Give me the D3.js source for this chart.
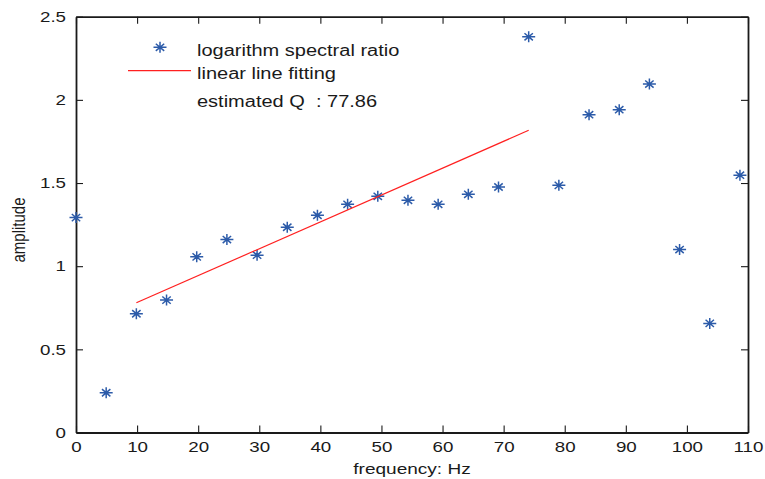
<!DOCTYPE html>
<html><head><meta charset="utf-8">
<script src="https://cdn.jsdelivr.net/npm/d3@7"></script>
<style>body{margin:0;background:#fff}svg{display:block}text{font-family:"Liberation Sans",Arial,sans-serif}</style>
</head><body><svg id="c" width="765" height="479"></svg>
<script>
const freqs = [0, 4.94, 9.88, 14.82, 19.76, 24.7, 29.64, 34.58, 39.52, 44.46, 49.4, 54.34, 59.28, 64.22, 69.16, 74.1, 79.04, 83.98, 88.92, 93.86, 98.8, 103.74, 108.68];
const ratios = [1.292, 0.239, 0.714, 0.796, 1.056, 1.160, 1.066, 1.234, 1.306, 1.372, 1.420, 1.396, 1.372, 1.432, 1.476, 2.379, 1.486, 1.911, 1.941, 2.095, 1.100, 0.656, 1.547];
const fitX = [9.88, 74.1];
const fitY = [0.780, 1.817];
const xTicks = [0,10,20,30,40,50,60,70,80,90,100,110];
const yTicks = [0,0.5,1,1.5,2,2.5];
const legendLabels = ["logarithm spectral ratio", "linear line fitting", "estimated Q  : 77.86"];

const svg = d3.select("#c");
const L=76, R=748, T=16.7, B=432.5;
const x = d3.scaleLinear().domain([0,110]).range([L,R]);
const y = d3.scaleLinear().domain([0,2.5]).range([B,T]);
const axCol="#1a1a1a";
const SX = 1.25;

const fmt = d => String(d);
svg.append("g").attr("class","xb").attr("transform",`translate(0,${B})`)
  .call(d3.axisBottom(x).tickValues(xTicks).tickFormat(fmt).tickSizeInner(-7).tickSizeOuter(0).tickPadding(9));
svg.append("g").attr("transform",`translate(0,${T})`)
  .call(d3.axisTop(x).tickValues(xTicks).tickFormat("").tickSizeInner(-7).tickSizeOuter(0));
svg.append("g").attr("class","yl").attr("transform",`translate(${L},0)`)
  .call(d3.axisLeft(y).tickValues(yTicks).tickFormat(fmt).tickSizeInner(-7).tickSizeOuter(0).tickPadding(8));
svg.append("g").attr("transform",`translate(${R},0)`)
  .call(d3.axisRight(y).tickValues(yTicks).tickFormat("").tickSizeInner(-7).tickSizeOuter(0));
svg.selectAll(".domain").attr("stroke",axCol).attr("stroke-width",1.8);
svg.selectAll(".tick line").attr("stroke",axCol).attr("stroke-width",1.1);
svg.selectAll(".tick text").attr("fill","#1a1a1a").style("font-size","15px")
  .style("font-family","'Liberation Sans',Arial,sans-serif").attr("transform",`scale(${SX},1)`);

svg.append("text").attr("transform",`translate(${(L+R)/2},474) scale(${SX+0.02},1)`).attr("text-anchor","middle")
  .style("font-size","15px").attr("fill","#1a1a1a").text("frequency: Hz");
svg.append("text").attr("transform",`translate(24.5,230) rotate(-90) scale(1,${SX})`).attr("text-anchor","middle")
  .style("font-size","15px").attr("fill","#1a1a1a").text("amplitude");

const blue="#2c5ba9";
function star(g, cx, cy){
  const sx=6.5, sy=5.5, dx=4.2, dy=3.6;
  g.append("path").attr("d",`M${cx-sx},${cy}H${cx+sx}M${cx},${cy-sy}V${cy+sy}M${cx-dx},${cy-dy}L${cx+dx},${cy+dy}M${cx-dx},${cy+dy}L${cx+dx},${cy-dy}`)
    .attr("stroke",blue).attr("stroke-width",1.5).attr("fill","none");
}
const pts = svg.append("g");
freqs.forEach((f,i)=>star(pts, x(f), y(ratios[i])));

const line = d3.line().x(d=>x(d[0])).y(d=>y(d[1]));
svg.append("path").datum(fitX.map((v,i)=>[v,fitY[i]])).attr("d",line)
  .attr("stroke","#ff2020").attr("stroke-width",1.2).attr("fill","none");

// legend
const lg = svg.append("g");
star(lg, 160, 47.3);
lg.append("line").attr("x1",128).attr("x2",191).attr("y1",70.7).attr("y2",70.7).attr("stroke","#ff2020").attr("stroke-width",1.2);
legendLabels.forEach((t,i)=>{
  lg.append("text").attr("transform",`translate(197,${[56,79,106.5][i]}) scale(${SX},1)`)
    .style("font-size","16px").style("white-space","pre").attr("xml:space","preserve").attr("fill","#1a1a1a").text(t);
});
</script></body></html>
